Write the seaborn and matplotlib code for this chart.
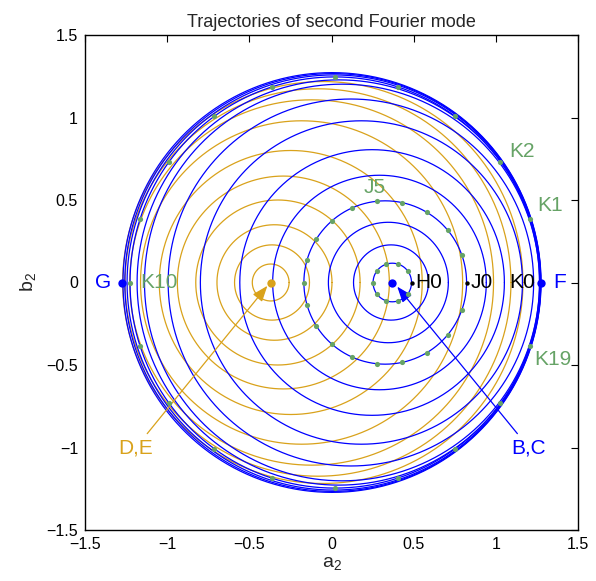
import numpy as np
import pandas as pd
import matplotlib
matplotlib.use("Agg")
import matplotlib.pyplot as plt
import seaborn as sns

# ---------------- data ----------------
blue_radius = [0.117, 0.228, 0.365, 0.495, 0.65, 0.805, 0.98, 1.112, 1.202, 1.228, 1.246, 1.258, 1.266, 1.272]
blue_center = [0.370, 0.362, 0.346, 0.327, 0.292, 0.247, 0.182, 0.118, 0.064, 0.045, 0.020, 0.014, 0.008, 0.003]
gold_radius = [0.112, 0.228, 0.35, 0.50, 0.645, 0.80, 0.98, 1.107, 1.174, 1.218]
gold_center = [-0.370, -0.362, -0.347, -0.326, -0.293, -0.248, -0.182, -0.121, -0.082, -0.053]

# green sample points on trajectories H, J, K (angle in degrees around each circle)
H_center, H_radius = 0.370, 0.117
H_angles = [0, 36, 72, 108, 144, 180, 216, 252, 288, 324]
J_center, J_radius = 0.328, 0.495
J_angles = [0, 20, 40, 59, 78, 96, 114, 131, 148, 164, 180, 196, 212, 229, 246, 264, 282, 301, 320, 340]
K_center, K_radius = 0.020, 1.246
K_angles = [0, 18, 36, 54, 72, 90, 108, 126, 144, 162, 180, 198, 216, 234, 252, 270, 288, 306, 324, 342]

# fixed points
BC = (0.371, 0.0)
DE = (-0.371, 0.0)
F_pt = (1.277, 0.0)
G_pt = (-1.275, 0.0)

BLUE = "#0000ff"
GOLD = "#d9a21b"
GREEN = "#66a366"

# ---------------- figure ----------------
sns.set_theme(style="white")
plt.rcParams["font.family"] = ["Liberation Sans", "DejaVu Sans"]
plt.rcParams["mathtext.fontset"] = "custom"
plt.rcParams["mathtext.rm"] = "Liberation Sans"
plt.rcParams["mathtext.it"] = "Liberation Sans"

fig = plt.figure(figsize=(5.96, 5.81), dpi=100)
ax = fig.add_axes([85 / 596, 1 - 530 / 581, 493 / 596, 495 / 581])

theta = np.linspace(0, 2 * np.pi, 721)

def circles_df(centers, radii):
    rows = []
    for i, (c, r) in enumerate(zip(centers, radii)):
        rows.append(pd.DataFrame({"x": c + r * np.cos(theta), "y": r * np.sin(theta), "id": i}))
    return pd.concat(rows, ignore_index=True)

gold_df = circles_df(gold_center, gold_radius)
blue_df = circles_df(blue_center, blue_radius)

sns.lineplot(data=gold_df, x="x", y="y", units="id", estimator=None, sort=False,
             color=GOLD, linewidth=0.9, ax=ax)
sns.lineplot(data=blue_df, x="x", y="y", units="id", estimator=None, sort=False,
             color=BLUE, linewidth=0.9, ax=ax)

def pts(c, r, angles):
    a = np.deg2rad(np.array(angles, dtype=float))
    return pd.DataFrame({"x": c + r * np.cos(a), "y": r * np.sin(a)})

Hp = pts(H_center, H_radius, H_angles)
Jp = pts(J_center, J_radius, J_angles)
Kp = pts(K_center, K_radius, K_angles)

green_pts = pd.concat([Hp.iloc[1:], Jp.iloc[1:], Kp.iloc[1:]], ignore_index=True)
sns.scatterplot(data=green_pts, x="x", y="y", color=GREEN, s=14, edgecolor=GREEN,
                linewidth=0, ax=ax, zorder=5)
black_pts = pd.concat([Hp.iloc[:1], Jp.iloc[:1], Kp.iloc[:1]], ignore_index=True)
sns.scatterplot(data=black_pts, x="x", y="y", color="black", s=10, linewidth=0, ax=ax, zorder=6)

fixed_blue = pd.DataFrame({"x": [BC[0], F_pt[0], G_pt[0]], "y": [BC[1], F_pt[1], G_pt[1]]})
sns.scatterplot(data=fixed_blue, x="x", y="y", color=BLUE, s=36, linewidth=0, ax=ax, zorder=7)
sns.scatterplot(data=pd.DataFrame({"x": [DE[0]], "y": [DE[1]]}), x="x", y="y",
                color=GOLD, s=36, linewidth=0, ax=ax, zorder=7)

# labels
fs = 15
ax.text(-1.34, 0, "G", color=BLUE, fontsize=fs, ha="right", va="center")
ax.text(1.35, 0, "F", color=BLUE, fontsize=fs, ha="left", va="center")
ax.text(-1.165, 0, "K10", color=GREEN, fontsize=fs, ha="left", va="center")
ax.text(1.24, 0, "K0", color="black", fontsize=fs, ha="right", va="center")
ax.text(0.845, 0, "J0", color="black", fontsize=fs, ha="left", va="center")
ax.text(0.51, 0, "H0", color="black", fontsize=fs, ha="left", va="center")
ax.text(0.265, 0.575, "J5", color=GREEN, fontsize=fs, ha="center", va="center")
ax.text(1.16, 0.795, "K2", color=GREEN, fontsize=fs, ha="center", va="center")
ax.text(1.33, 0.467, "K1", color=GREEN, fontsize=fs, ha="center", va="center")
ax.text(1.35, -0.468, "K19", color=GREEN, fontsize=fs, ha="center", va="center")

arrow_style = "-|>,head_length=0.8,head_width=0.3"
ax.annotate("D,E", xy=(-0.39, -0.02), xytext=(-1.19, -1.0), color=GOLD, fontsize=fs,
            ha="center", va="center",
            arrowprops=dict(arrowstyle=arrow_style, color=GOLD, lw=0.9, mutation_scale=12,
                            shrinkA=1, shrinkB=0))
ax.annotate("B,C", xy=(0.40, -0.025), xytext=(1.20, -1.0), color=BLUE, fontsize=fs,
            ha="center", va="center",
            arrowprops=dict(arrowstyle=arrow_style, color=BLUE, lw=0.9, mutation_scale=12,
                            shrinkA=1, shrinkB=0))

ax.set_xlim(-1.5, 1.5)
ax.set_ylim(-1.5, 1.5)
ticks = [-1.5, -1, -0.5, 0, 0.5, 1, 1.5]
tick_labels = ["\u22121.5", "\u22121", "\u22120.5", "0", "0.5", "1", "1.5"]
ax.set_xticks(ticks)
ax.set_xticklabels(tick_labels)
ax.set_yticks(ticks)
ax.set_yticklabels(tick_labels)
ax.tick_params(direction="in", length=5, width=0.8, top=True, right=True,
               labelsize=11.5, colors="black", pad=5)
for s in ax.spines.values():
    s.set_visible(True)
    s.set_color("black")
    s.set_linewidth(1.0)
ax.set_xlabel("a$_2$", fontsize=14, labelpad=2)
ax.set_ylabel("b$_2$", fontsize=14, labelpad=6)
ax.set_title("Trajectories of second Fourier mode", fontsize=13, pad=6)

fig.savefig("out.png", dpi=100)
